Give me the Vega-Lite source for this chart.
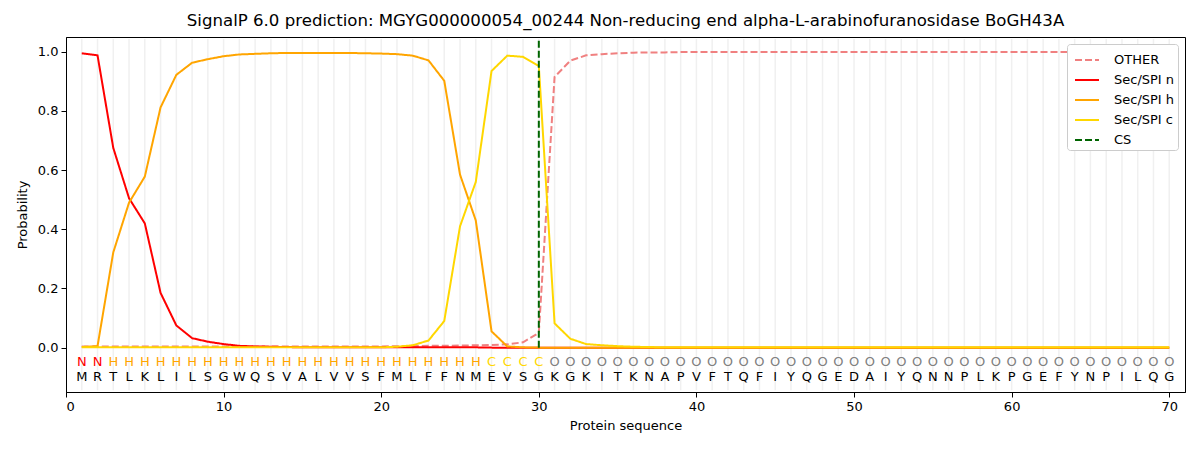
{
  "$schema": "https://vega.github.io/schema/vega-lite/v6.json",
  "autosize": "none",
  "padding": {"left": 66, "top": 37, "right": 15, "bottom": 58},
  "width": 1119,
  "height": 355,
  "background": "white",
  "title": {
    "text": "SignalP 6.0 prediction: MGYG000000054_00244 Non-reducing end alpha-L-arabinofuranosidase BoGH43A",
    "fontSize": 16.6,
    "fontWeight": "normal",
    "font": "DejaVu Sans",
    "color": "black",
    "offset": 7
  },
  "config": {
    "view": {"stroke": "black", "strokeWidth": 1},
    "axis": {
      "labelFont": "DejaVu Sans",
      "labelFontSize": 13,
      "labelColor": "black",
      "titleFont": "DejaVu Sans",
      "titleFontSize": 13,
      "titleFontWeight": "normal",
      "titleColor": "black",
      "domainColor": "black",
      "tickColor": "black",
      "tickSize": 5,
      "grid": false
    }
  },
  "datasets": {
    "seq": [
      {"pos": 1, "aa": "M", "label": "N", "OTHER": 0.004, "Sec/SPI n": 0.995, "Sec/SPI h": 0.002, "Sec/SPI c": 0.001},
      {"pos": 2, "aa": "R", "label": "N", "OTHER": 0.004, "Sec/SPI n": 0.988, "Sec/SPI h": 0.005, "Sec/SPI c": 0.001},
      {"pos": 3, "aa": "T", "label": "H", "OTHER": 0.004, "Sec/SPI n": 0.675, "Sec/SPI h": 0.322, "Sec/SPI c": 0.001},
      {"pos": 4, "aa": "L", "label": "H", "OTHER": 0.004, "Sec/SPI n": 0.505, "Sec/SPI h": 0.49, "Sec/SPI c": 0.001},
      {"pos": 5, "aa": "K", "label": "H", "OTHER": 0.004, "Sec/SPI n": 0.42, "Sec/SPI h": 0.578, "Sec/SPI c": 0.001},
      {"pos": 6, "aa": "L", "label": "H", "OTHER": 0.004, "Sec/SPI n": 0.185, "Sec/SPI h": 0.812, "Sec/SPI c": 0.001},
      {"pos": 7, "aa": "I", "label": "H", "OTHER": 0.004, "Sec/SPI n": 0.075, "Sec/SPI h": 0.922, "Sec/SPI c": 0.001},
      {"pos": 8, "aa": "L", "label": "H", "OTHER": 0.004, "Sec/SPI n": 0.032, "Sec/SPI h": 0.963, "Sec/SPI c": 0.001},
      {"pos": 9, "aa": "S", "label": "H", "OTHER": 0.004, "Sec/SPI n": 0.02, "Sec/SPI h": 0.975, "Sec/SPI c": 0.001},
      {"pos": 10, "aa": "G", "label": "H", "OTHER": 0.004, "Sec/SPI n": 0.012, "Sec/SPI h": 0.985, "Sec/SPI c": 0.001},
      {"pos": 11, "aa": "W", "label": "H", "OTHER": 0.004, "Sec/SPI n": 0.006, "Sec/SPI h": 0.991, "Sec/SPI c": 0.001},
      {"pos": 12, "aa": "Q", "label": "H", "OTHER": 0.004, "Sec/SPI n": 0.004, "Sec/SPI h": 0.993, "Sec/SPI c": 0.001},
      {"pos": 13, "aa": "S", "label": "H", "OTHER": 0.004, "Sec/SPI n": 0.003, "Sec/SPI h": 0.995, "Sec/SPI c": 0.001},
      {"pos": 14, "aa": "V", "label": "H", "OTHER": 0.004, "Sec/SPI n": 0.002, "Sec/SPI h": 0.996, "Sec/SPI c": 0.001},
      {"pos": 15, "aa": "A", "label": "H", "OTHER": 0.004, "Sec/SPI n": 0.001, "Sec/SPI h": 0.996, "Sec/SPI c": 0.001},
      {"pos": 16, "aa": "L", "label": "H", "OTHER": 0.004, "Sec/SPI n": 0.001, "Sec/SPI h": 0.996, "Sec/SPI c": 0.001},
      {"pos": 17, "aa": "V", "label": "H", "OTHER": 0.004, "Sec/SPI n": 0.001, "Sec/SPI h": 0.996, "Sec/SPI c": 0.001},
      {"pos": 18, "aa": "V", "label": "H", "OTHER": 0.004, "Sec/SPI n": 0.001, "Sec/SPI h": 0.996, "Sec/SPI c": 0.001},
      {"pos": 19, "aa": "S", "label": "H", "OTHER": 0.004, "Sec/SPI n": 0.001, "Sec/SPI h": 0.995, "Sec/SPI c": 0.001},
      {"pos": 20, "aa": "F", "label": "H", "OTHER": 0.004, "Sec/SPI n": 0.001, "Sec/SPI h": 0.994, "Sec/SPI c": 0.001},
      {"pos": 21, "aa": "M", "label": "H", "OTHER": 0.005, "Sec/SPI n": 0.001, "Sec/SPI h": 0.992, "Sec/SPI c": 0.003},
      {"pos": 22, "aa": "L", "label": "H", "OTHER": 0.005, "Sec/SPI n": 0.001, "Sec/SPI h": 0.987, "Sec/SPI c": 0.008},
      {"pos": 23, "aa": "F", "label": "H", "OTHER": 0.006, "Sec/SPI n": 0.001, "Sec/SPI h": 0.971, "Sec/SPI c": 0.024},
      {"pos": 24, "aa": "F", "label": "H", "OTHER": 0.006, "Sec/SPI n": 0.001, "Sec/SPI h": 0.902, "Sec/SPI c": 0.09},
      {"pos": 25, "aa": "N", "label": "H", "OTHER": 0.007, "Sec/SPI n": 0.001, "Sec/SPI h": 0.585, "Sec/SPI c": 0.41},
      {"pos": 26, "aa": "M", "label": "H", "OTHER": 0.008, "Sec/SPI n": 0.001, "Sec/SPI h": 0.43, "Sec/SPI c": 0.56},
      {"pos": 27, "aa": "E", "label": "C", "OTHER": 0.009, "Sec/SPI n": 0.0, "Sec/SPI h": 0.055, "Sec/SPI c": 0.935},
      {"pos": 28, "aa": "V", "label": "C", "OTHER": 0.011, "Sec/SPI n": 0.0, "Sec/SPI h": 0.004, "Sec/SPI c": 0.987},
      {"pos": 29, "aa": "S", "label": "C", "OTHER": 0.018, "Sec/SPI n": 0.0, "Sec/SPI h": 0.001, "Sec/SPI c": 0.983},
      {"pos": 30, "aa": "G", "label": "C", "OTHER": 0.05, "Sec/SPI n": 0.0, "Sec/SPI h": 0.0, "Sec/SPI c": 0.952},
      {"pos": 31, "aa": "K", "label": "O", "OTHER": 0.915, "Sec/SPI n": 0.0, "Sec/SPI h": 0.0, "Sec/SPI c": 0.082},
      {"pos": 32, "aa": "G", "label": "O", "OTHER": 0.97, "Sec/SPI n": 0.0, "Sec/SPI h": 0.0, "Sec/SPI c": 0.03},
      {"pos": 33, "aa": "K", "label": "O", "OTHER": 0.988, "Sec/SPI n": 0.0, "Sec/SPI h": 0.0, "Sec/SPI c": 0.012},
      {"pos": 34, "aa": "I", "label": "O", "OTHER": 0.992, "Sec/SPI n": 0.0, "Sec/SPI h": 0.0, "Sec/SPI c": 0.008},
      {"pos": 35, "aa": "T", "label": "O", "OTHER": 0.995, "Sec/SPI n": 0.0, "Sec/SPI h": 0.0, "Sec/SPI c": 0.005},
      {"pos": 36, "aa": "K", "label": "O", "OTHER": 0.997, "Sec/SPI n": 0.0, "Sec/SPI h": 0.0, "Sec/SPI c": 0.003},
      {"pos": 37, "aa": "N", "label": "O", "OTHER": 0.998, "Sec/SPI n": 0.0, "Sec/SPI h": 0.0, "Sec/SPI c": 0.002},
      {"pos": 38, "aa": "A", "label": "O", "OTHER": 0.998, "Sec/SPI n": 0.0, "Sec/SPI h": 0.0, "Sec/SPI c": 0.001},
      {"pos": 39, "aa": "P", "label": "O", "OTHER": 0.999, "Sec/SPI n": 0.0, "Sec/SPI h": 0.0, "Sec/SPI c": 0.001},
      {"pos": 40, "aa": "V", "label": "O", "OTHER": 0.999, "Sec/SPI n": 0.0, "Sec/SPI h": 0.0, "Sec/SPI c": 0.001},
      {"pos": 41, "aa": "F", "label": "O", "OTHER": 0.999, "Sec/SPI n": 0.0, "Sec/SPI h": 0.0, "Sec/SPI c": 0.001},
      {"pos": 42, "aa": "T", "label": "O", "OTHER": 0.999, "Sec/SPI n": 0.0, "Sec/SPI h": 0.0, "Sec/SPI c": 0.001},
      {"pos": 43, "aa": "Q", "label": "O", "OTHER": 0.999, "Sec/SPI n": 0.0, "Sec/SPI h": 0.0, "Sec/SPI c": 0.001},
      {"pos": 44, "aa": "F", "label": "O", "OTHER": 0.999, "Sec/SPI n": 0.0, "Sec/SPI h": 0.0, "Sec/SPI c": 0.001},
      {"pos": 45, "aa": "I", "label": "O", "OTHER": 0.999, "Sec/SPI n": 0.0, "Sec/SPI h": 0.0, "Sec/SPI c": 0.001},
      {"pos": 46, "aa": "Y", "label": "O", "OTHER": 0.999, "Sec/SPI n": 0.0, "Sec/SPI h": 0.0, "Sec/SPI c": 0.001},
      {"pos": 47, "aa": "Q", "label": "O", "OTHER": 0.999, "Sec/SPI n": 0.0, "Sec/SPI h": 0.0, "Sec/SPI c": 0.001},
      {"pos": 48, "aa": "G", "label": "O", "OTHER": 0.999, "Sec/SPI n": 0.0, "Sec/SPI h": 0.0, "Sec/SPI c": 0.001},
      {"pos": 49, "aa": "E", "label": "O", "OTHER": 0.999, "Sec/SPI n": 0.0, "Sec/SPI h": 0.0, "Sec/SPI c": 0.001},
      {"pos": 50, "aa": "D", "label": "O", "OTHER": 0.999, "Sec/SPI n": 0.0, "Sec/SPI h": 0.0, "Sec/SPI c": 0.001},
      {"pos": 51, "aa": "A", "label": "O", "OTHER": 0.999, "Sec/SPI n": 0.0, "Sec/SPI h": 0.0, "Sec/SPI c": 0.001},
      {"pos": 52, "aa": "I", "label": "O", "OTHER": 0.999, "Sec/SPI n": 0.0, "Sec/SPI h": 0.0, "Sec/SPI c": 0.001},
      {"pos": 53, "aa": "Y", "label": "O", "OTHER": 0.999, "Sec/SPI n": 0.0, "Sec/SPI h": 0.0, "Sec/SPI c": 0.001},
      {"pos": 54, "aa": "Q", "label": "O", "OTHER": 0.999, "Sec/SPI n": 0.0, "Sec/SPI h": 0.0, "Sec/SPI c": 0.001},
      {"pos": 55, "aa": "N", "label": "O", "OTHER": 0.999, "Sec/SPI n": 0.0, "Sec/SPI h": 0.0, "Sec/SPI c": 0.001},
      {"pos": 56, "aa": "N", "label": "O", "OTHER": 0.999, "Sec/SPI n": 0.0, "Sec/SPI h": 0.0, "Sec/SPI c": 0.001},
      {"pos": 57, "aa": "P", "label": "O", "OTHER": 0.999, "Sec/SPI n": 0.0, "Sec/SPI h": 0.0, "Sec/SPI c": 0.001},
      {"pos": 58, "aa": "L", "label": "O", "OTHER": 0.999, "Sec/SPI n": 0.0, "Sec/SPI h": 0.0, "Sec/SPI c": 0.001},
      {"pos": 59, "aa": "K", "label": "O", "OTHER": 0.999, "Sec/SPI n": 0.0, "Sec/SPI h": 0.0, "Sec/SPI c": 0.001},
      {"pos": 60, "aa": "P", "label": "O", "OTHER": 0.999, "Sec/SPI n": 0.0, "Sec/SPI h": 0.0, "Sec/SPI c": 0.001},
      {"pos": 61, "aa": "G", "label": "O", "OTHER": 0.999, "Sec/SPI n": 0.0, "Sec/SPI h": 0.0, "Sec/SPI c": 0.001},
      {"pos": 62, "aa": "E", "label": "O", "OTHER": 0.999, "Sec/SPI n": 0.0, "Sec/SPI h": 0.0, "Sec/SPI c": 0.001},
      {"pos": 63, "aa": "F", "label": "O", "OTHER": 0.999, "Sec/SPI n": 0.0, "Sec/SPI h": 0.0, "Sec/SPI c": 0.001},
      {"pos": 64, "aa": "Y", "label": "O", "OTHER": 0.999, "Sec/SPI n": 0.0, "Sec/SPI h": 0.0, "Sec/SPI c": 0.001},
      {"pos": 65, "aa": "N", "label": "O", "OTHER": 0.999, "Sec/SPI n": 0.0, "Sec/SPI h": 0.0, "Sec/SPI c": 0.001},
      {"pos": 66, "aa": "P", "label": "O", "OTHER": 0.999, "Sec/SPI n": 0.0, "Sec/SPI h": 0.0, "Sec/SPI c": 0.001},
      {"pos": 67, "aa": "I", "label": "O", "OTHER": 0.999, "Sec/SPI n": 0.0, "Sec/SPI h": 0.0, "Sec/SPI c": 0.001},
      {"pos": 68, "aa": "L", "label": "O", "OTHER": 0.999, "Sec/SPI n": 0.0, "Sec/SPI h": 0.0, "Sec/SPI c": 0.001},
      {"pos": 69, "aa": "Q", "label": "O", "OTHER": 0.999, "Sec/SPI n": 0.0, "Sec/SPI h": 0.0, "Sec/SPI c": 0.001},
      {"pos": 70, "aa": "G", "label": "O", "OTHER": 0.999, "Sec/SPI n": 0.0, "Sec/SPI h": 0.0, "Sec/SPI c": 0.001}
    ],
    "cs": [{"pos": 30, "series": "CS"}]
  },
  "data": {"name": "seq"},
  "layer": [
    {
      "mark": {"type": "rule", "color": "#f0f0f0", "strokeWidth": 1.5},
      "encoding": {
        "x": {"field": "pos", "type": "quantitative"},
        "y": {"datum": -0.144},
        "y2": {"datum": 1.043}
      }
    },
    {
      "transform": [
        {"fold": ["OTHER", "Sec/SPI n", "Sec/SPI h", "Sec/SPI c"], "as": ["series", "prob"]}
      ],
      "mark": {"type": "line", "strokeWidth": 2},
      "encoding": {
        "x": {
          "field": "pos",
          "type": "quantitative",
          "scale": {"domain": [0, 71], "nice": false, "zero": false},
          "axis": {"values": [0, 10, 20, 30, 40, 50, 60, 70], "title": "Protein sequence", "titlePadding": 6, "labelPadding": 3}
        },
        "y": {
          "field": "prob",
          "type": "quantitative",
          "scale": {"domain": [-0.15, 1.05], "nice": false, "zero": false},
          "axis": {"values": [0, 0.2, 0.4, 0.6, 0.8, 1.0], "format": ".1f", "title": "Probability", "titlePadding": 8, "labelPadding": 3}
        },
        "color": {
          "field": "series",
          "type": "nominal",
          "scale": {
            "domain": ["OTHER", "Sec/SPI n", "Sec/SPI h", "Sec/SPI c", "CS"],
            "range": ["#f08080", "#ff0000", "#ffa500", "#ffd700", "#006400"]
          },
          "legend": {
            "title": null,
            "orient": "top-right",
            "offset": 7,
            "fillColor": "white",
            "strokeColor": "#cccccc",
            "cornerRadius": 3,
            "padding": 3,
            "symbolType": "stroke",
            "symbolSize": 576,
            "symbolStrokeWidth": 2,
            "symbolOffset": 4,
            "labelFont": "DejaVu Sans",
            "labelFontSize": 13,
            "labelColor": "black",
            "labelOffset": 14,
            "rowPadding": -2
          }
        },
        "strokeDash": {
          "field": "series",
          "type": "nominal",
          "scale": {
            "domain": ["OTHER", "Sec/SPI n", "Sec/SPI h", "Sec/SPI c", "CS"],
            "range": [[7, 3], [1, 0], [1, 0], [1, 0], [7, 3]]
          },
          "legend": null
        }
      }
    },
    {
      "data": {"name": "cs"},
      "mark": {"type": "rule", "strokeWidth": 2, "strokeDash": [7, 3]},
      "encoding": {
        "x": {"field": "pos", "type": "quantitative"},
        "y": {"datum": 0},
        "y2": {"datum": 1.04},
        "color": {"field": "series", "type": "nominal"}
      }
    },
    {
      "mark": {"type": "text", "font": "DejaVu Sans", "fontSize": 13, "baseline": "middle"},
      "encoding": {
        "x": {"field": "pos", "type": "quantitative"},
        "y": {"datum": -0.048},
        "text": {"field": "label"},
        "color": {
          "condition": [
            {"test": "datum.label === 'N'", "value": "#ff0000"},
            {"test": "datum.label === 'H'", "value": "#ffa500"},
            {"test": "datum.label === 'C'", "value": "#ffd700"}
          ],
          "value": "#808080"
        }
      }
    },
    {
      "mark": {"type": "text", "font": "DejaVu Sans", "fontSize": 13, "baseline": "middle", "color": "black"},
      "encoding": {
        "x": {"field": "pos", "type": "quantitative"},
        "y": {"datum": -0.1},
        "text": {"field": "aa"}
      }
    }
  ]
}
